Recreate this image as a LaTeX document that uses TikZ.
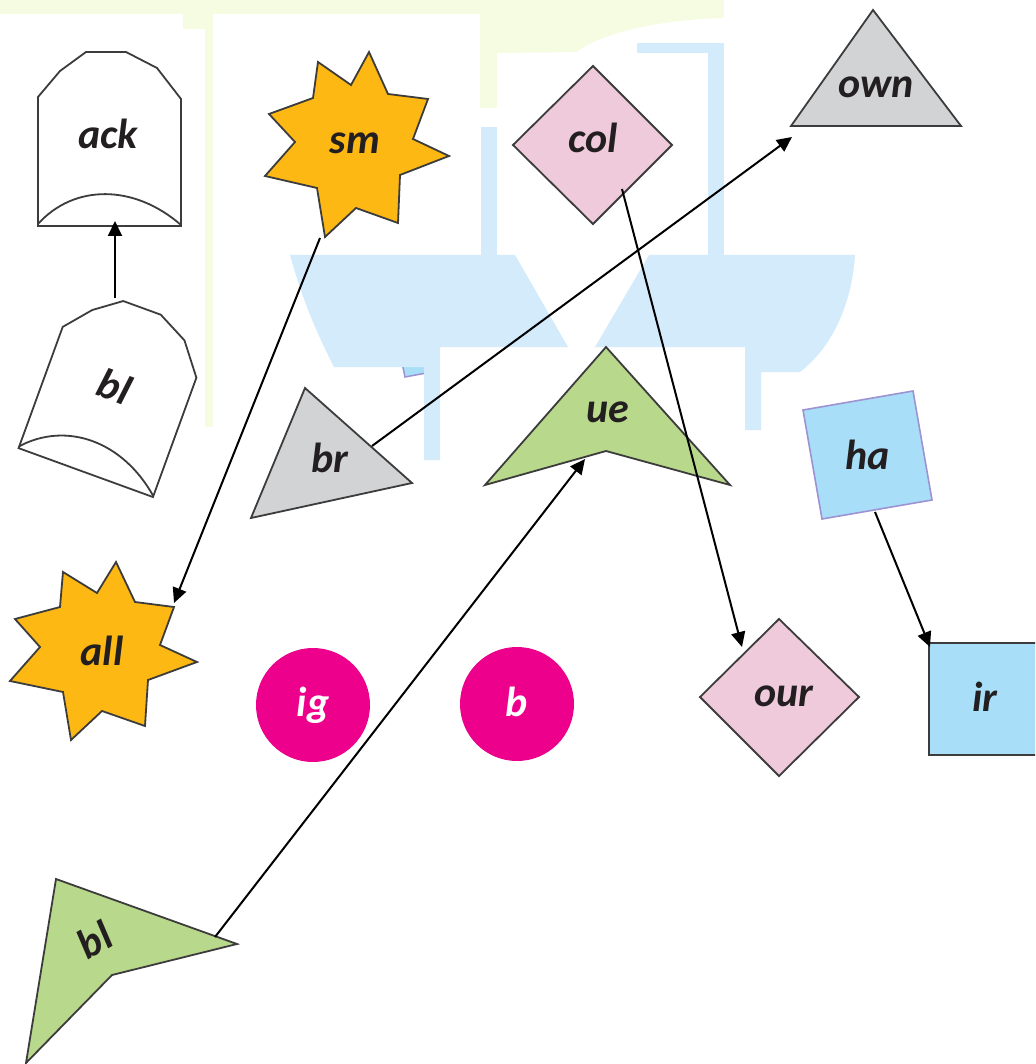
\documentclass[tikz,border=0pt]{standalone}
\usepackage{fontspec}
\setmainfont{Carlito}
\usetikzlibrary{arrows.meta}
\definecolor{edgegray}{HTML}{3C3C3C}
\definecolor{labeltext}{HTML}{231F20}
\definecolor{starorange}{HTML}{FDB813}
\definecolor{pinkd}{HTML}{EFCADB}
\definecolor{grayt}{HTML}{D1D3D4}
\definecolor{greend}{HTML}{B8D88B}
\definecolor{magentac}{HTML}{EC008C}
\definecolor{lblue}{HTML}{A8DEF7}
\definecolor{hapurple}{HTML}{9D93D3}
\definecolor{wmblue}{HTML}{D4EBFC}
\definecolor{wmyellow}{HTML}{F6FCE2}
\begin{document}
\begin{tikzpicture}[x=1pt,y=-1pt,
  shp/.style={draw=edgegray, line width=1.8pt, line join=miter},
  lbl/.style={font=\fontsize{42}{46}\selectfont\bfseries\itshape, text=labeltext, inner sep=0pt, text height=28pt, text depth=0pt},
  wlbl/.style={lbl, text=white},
  conn/.style={line width=2pt, -{Triangle[length=15pt,width=14pt]}}]
\useasboundingbox (0,0) rectangle (1035,1064);
\clip (0,0) rectangle (1035,1064);
\fill[white] (0,0) rectangle (1035,1064);
% faint background
\fill[wmyellow] (0,0) rectangle (724,14);
\fill[wmyellow] (183,0) rectangle (213,29);
\fill[wmyellow] (205,29) rectangle (213,427);
\fill[wmyellow] (480,0) rectangle (497,108);
\fill[wmyellow] (497,14) -- (724,14) -- (724,18) .. controls (650,20) and (600,35) .. (576,52) -- (497,53) -- cycle;
\filldraw[fill=lblue, draw=hapurple, line width=1.5pt] (401,358) -- (405,377) -- (432,372) -- (428,354) -- cycle;
\fill[wmblue] (290,255) -- (515,255) -- (568,347) -- (440,347) -- (440,460) -- (424,460) -- (424,367) -- (334,367) .. controls (310,320) and (300,290) .. cycle;
\fill[wmblue] (649,255) -- (855,255) .. controls (852,300) and (835,345) .. (800,372) -- (761,372) -- (761,430) -- (745,430) -- (745,347) -- (595,347) -- cycle;
\fill[wmblue] (481,127) rectangle (497,255);
\fill[wmblue] (708,43) rectangle (724,255);
\fill[wmblue] (637,43) rectangle (724,53);
% shapes
\draw[shp, fill=white] (38,226) -- (38,97) -- (60,71) -- (86,52) -- (126,52) -- (157,68) -- (181,99) -- (181,226) -- cycle;
\draw[shp] (38,224) .. controls (74,184) and (134,184) .. (181,225);
\begin{scope}[shift={(116,391)}, rotate=-20]
\draw[shp, fill=white] (-72,87) -- (-72,-42) -- (-50,-68) -- (-24,-87) -- (16,-87) -- (47,-71) -- (71,-40) -- (71,87) -- cycle;
\draw[shp] (-72,85) .. controls (-36,45) and (24,45) .. (71,86);
\end{scope}
\draw[shp, fill=starorange] (369,52) -- (388,94) -- (428,99) -- (413,139) -- (449,156) -- (400,175) -- (398,223) -- (356,208) -- (325,237) -- (317,188) -- (265,176) -- (295,142) -- (269,114) -- (313,98) -- (318,62) -- (351,85) -- cycle;
\draw[shp, fill=starorange] (116,562) -- (135,602) -- (174,607) -- (160,645) -- (197,662) -- (148,680) -- (145,726) -- (102,711) -- (71,740) -- (63,692) -- (10,681) -- (40,647) -- (15,619) -- (60,607) -- (63,572) -- (97,593) -- cycle;
\draw[shp, fill=pinkd] (593,66) -- (672,145) -- (593,224) -- (513,145) -- cycle;
\draw[shp, fill=pinkd] (779,619) -- (859,697) -- (779,776) -- (700,697) -- cycle;
\draw[shp, fill=grayt] (873,10) -- (961,126) -- (791,126) -- cycle;
\draw[shp, fill=grayt] (305,388) -- (412,483) -- (251,518) -- cycle;
\draw[shp, fill=greend] (606,347) -- (730,485) -- (606,451) -- (485,485) -- cycle;
\draw[shp, fill=greend] (56,879) -- (237,944) -- (112,975) -- (26,1063) -- cycle;
\draw[fill=lblue, draw=hapurple, line width=1.6pt] (803,410) -- (913,391) -- (932,500) -- (822,519) -- cycle;
\draw[shp, fill=lblue] (929,643) rectangle (1041,755);
\fill[magentac] (313,705) circle[radius=57pt];
\fill[magentac] (517,704) circle[radius=57pt];
% labels
\node[lbl] (ack) at (108,135) {ack};
\node[lbl, rotate=-20] (bl1) at (115,387) {bl};
\node[lbl] (sm) at (355,140) {sm};
\node[lbl] (col) at (593,139) {col};
\node[lbl] (own) at (876,84) {own};
\node[lbl] (br) at (330,458) {br};
\node[lbl] (ue) at (608,408) {ue};
\node[lbl] (ha) at (868,455) {ha};
\node[lbl] (all) at (102,651) {all};
\node[wlbl] (ig) at (313,702) {ig};
\node[wlbl] (b) at (517,702) {b};
\node[lbl] (our) at (784,692) {our};
\node[lbl] (ir) at (985,697) {ir};
\node[lbl, rotate=30] (bl2) at (95,940) {bl};
% connector ends
\coordinate (bl1-out) at (115,298);
\coordinate (ack-in) at (115,221);
\coordinate (sm-out) at (320,238);
\coordinate (all-in) at (174,603);
\coordinate (br-out) at (372,446);
\coordinate (own-in) at (792,137);
\coordinate (col-out) at (622,189);
\coordinate (our-in) at (742,647);
\coordinate (bl2-out) at (215,937);
\coordinate (ue-in) at (585,459);
\coordinate (ha-out) at (875,512);
\coordinate (ir-in) at (930,647);
\draw[conn] (bl1-out) -- (ack-in);
\draw[conn] (sm-out) -- (all-in);
\draw[conn] (br-out) -- (own-in);
\draw[conn] (col-out) -- (our-in);
\draw[conn] (bl2-out) -- (ue-in);
\draw[conn] (ha-out) -- (ir-in);
\end{tikzpicture}
\end{document}
